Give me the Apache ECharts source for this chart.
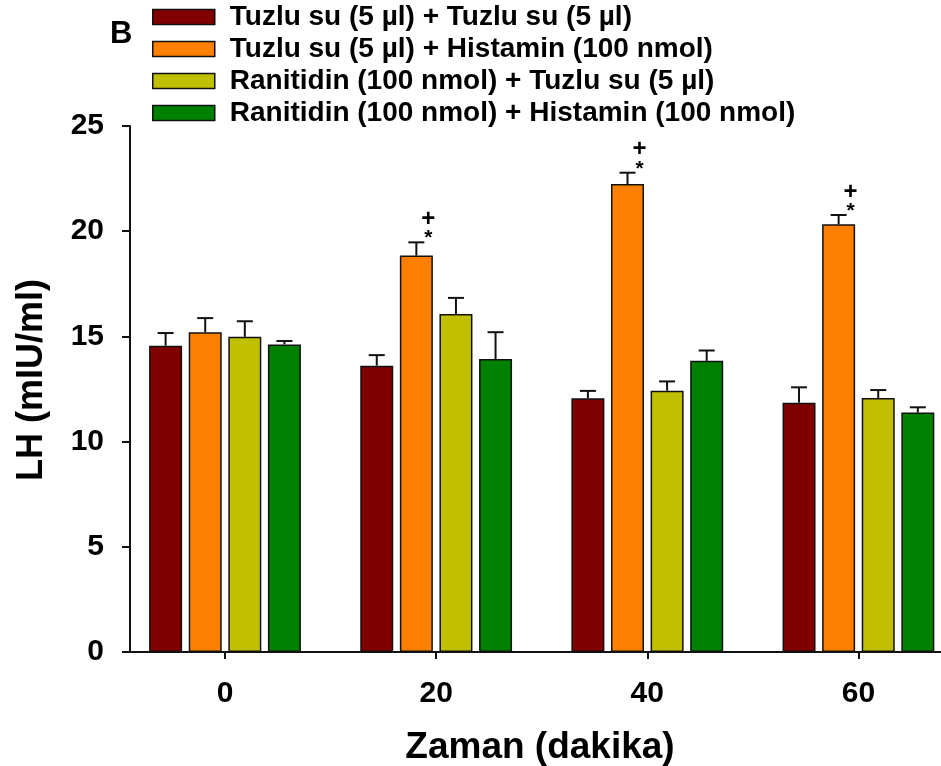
<!DOCTYPE html>
<html>
<head>
<meta charset="utf-8">
<script src="https://cdn.jsdelivr.net/npm/echarts@6/dist/echarts.min.js"></script>
<style>
  html, body { margin: 0; padding: 0; background: #fff; }
  #chart { width: 941px; height: 766px; }
</style>
</head>
<body>
<div id="chart"></div>
<script>
// Sampling times (minutes)
const times = [0, 20, 40, 60];
const tickLabels = ['0', '20', '40', '60'];

// Group names
const groupNames = [
  'Tuzlu su (5 µl) + Tuzlu su (5 µl)',
  'Tuzlu su (5 µl) + Histamin (100 nmol)',
  'Ranitidin (100 nmol) + Tuzlu su (5 µl)',
  'Ranitidin (100 nmol) + Histamin (100 nmol)'
];

// LH means (mIU/ml) and SEM for each group
const salineSaline = [14.56, 13.61, 12.06, 11.85];
const salineSalineErr = [0.60, 0.50, 0.35, 0.73];
const salineHistamine = [15.20, 18.84, 22.24, 20.33];
const salineHistamineErr = [0.67, 0.63, 0.54, 0.44];
const ranitidineSaline = [14.98, 16.06, 12.42, 12.07];
const ranitidineSalineErr = [0.74, 0.77, 0.44, 0.38];
const ranitidineHistamine = [14.62, 13.92, 13.84, 11.38];
const ranitidineHistamineErr = [0.16, 1.28, 0.49, 0.25];

// Significance marks over the saline + histamine group
const histamineMarks = ['', '+\n*', '+\n*', '+\n*'];

const yTicks = [0, 5, 10, 15, 20, 25];

const colors = ['#800000', '#FF8000', '#C0C000', '#008000'];
const FONT = "'Liberation Sans', Arial, Helvetica, sans-serif";
const BAR_W = 33;
const BAR_GAP = 0.2;
const PITCH = BAR_W * (1 + BAR_GAP);

const means = [salineSaline, salineHistamine, ranitidineSaline, ranitidineHistamine];
const errs = [salineSalineErr, salineHistamineErr, ranitidineSalineErr, ranitidineHistamineErr];

const chart = echarts.init(document.getElementById('chart'), null, { renderer: 'canvas' });

const barSeries = means.map((vals, i) => ({
  name: groupNames[i],
  type: 'bar',
  data: times.map((t, k) => [t, vals[k]]),
  barWidth: BAR_W,
  barGap: (BAR_GAP * 100) + '%',
  itemStyle: { color: colors[i], borderColor: '#111', borderWidth: 1.5 },
  z: 2
}));

// Upper error bars drawn at each bar's position
const errSeries = means.map((vals, i) => ({
  type: 'custom',
  silent: true,
  z: 3,
  data: times.map((t, k) => [t, vals[k], errs[i][k], i === 1 ? histamineMarks[k] : '']),
  encode: { x: 0, y: 1 },
  renderItem: function (params, api) {
    const x = api.value(0), v = api.value(1), e = api.value(2);
    const base = api.coord([x, v]);
    const top = api.coord([x, v + e]);
    const cx = base[0] + (i - 1.5) * PITCH;
    const capHalf = 8;
    const children = [
      { type: 'line', shape: { x1: cx, y1: base[1], x2: cx, y2: top[1] },
        style: { stroke: '#111', lineWidth: 2 } },
      { type: 'line', shape: { x1: cx - capHalf, y1: top[1], x2: cx + capHalf, y2: top[1] },
        style: { stroke: '#111', lineWidth: 2 } }
    ];
    const mark = api.value(3);
    if (mark) {
      children.push({ type: 'text', style: { text: '+', x: cx + 12, y: top[1] - 23,
        font: 'bold 24px ' + FONT, fill: '#000', align: 'center', verticalAlign: 'middle' } });
      children.push({ type: 'text', style: { text: '*', x: cx + 12, y: top[1] - 4,
        font: 'bold 21px ' + FONT, fill: '#000', align: 'center', verticalAlign: 'middle' } });
    }
    return { type: 'group', children: children };
  }
}));

chart.setOption({
  animation: false,
  backgroundColor: '#fff',
  grid: { left: 130, width: 834, top: 126, bottom: 114, outerBoundsMode: 'none', containLabel: false },
  legend: {
    data: groupNames,
    orient: 'vertical',
    left: 147,
    top: -2,
    itemWidth: 62,
    itemHeight: 15,
    itemGap: 4,
    icon: 'rect',
    itemStyle: { borderColor: '#111', borderWidth: 1.5 },
    textStyle: { fontFamily: FONT, fontWeight: 'bold', fontSize: 28, color: '#000',
      lineHeight: 27.5, padding: [0, 0, 0, 10] }
  },
  graphic: [
    { type: 'text', left: 110, top: 19,
      style: { text: 'B', font: 'bold 31px ' + FONT, fill: '#000' } }
  ],
  xAxis: {
    type: 'value',
    min: -9,
    max: 70,
    name: 'Zaman (dakika)',
    nameLocation: 'middle',
    nameGap: 77,
    nameTextStyle: { fontFamily: FONT, fontWeight: 'bold', fontSize: 37, color: '#000',
      padding: [0, 14, 0, 0] },
    axisLine: { onZero: false, lineStyle: { color: '#111', width: 2 } },
    axisTick: { show: true, length: 7, customValues: times, lineStyle: { color: '#111', width: 2 } },
    axisLabel: {
      customValues: times,
      formatter: (v) => tickLabels[times.indexOf(v)],
      margin: 27,
      fontFamily: FONT, fontWeight: 'bold', fontSize: 30, color: '#000'
    },
    splitLine: { show: false }
  },
  yAxis: {
    type: 'value',
    min: 0,
    max: 25,
    interval: 5,
    name: 'LH (mIU/ml)',
    nameLocation: 'middle',
    nameGap: 80,
    nameTextStyle: { fontFamily: FONT, fontWeight: 'bold', fontSize: 36, color: '#000',
      padding: [0, 0, 0, 18] },
    axisLine: { show: true, onZero: false, lineStyle: { color: '#111', width: 2 } },
    axisTick: { show: true, length: 8, lineStyle: { color: '#111', width: 2 } },
    axisLabel: {
      customValues: yTicks,
      margin: 26,
      fontFamily: FONT, fontWeight: 'bold', fontSize: 30, color: '#000'
    },
    splitLine: { show: false }
  },
  series: barSeries.concat(errSeries)
});
</script>
</body>
</html>
